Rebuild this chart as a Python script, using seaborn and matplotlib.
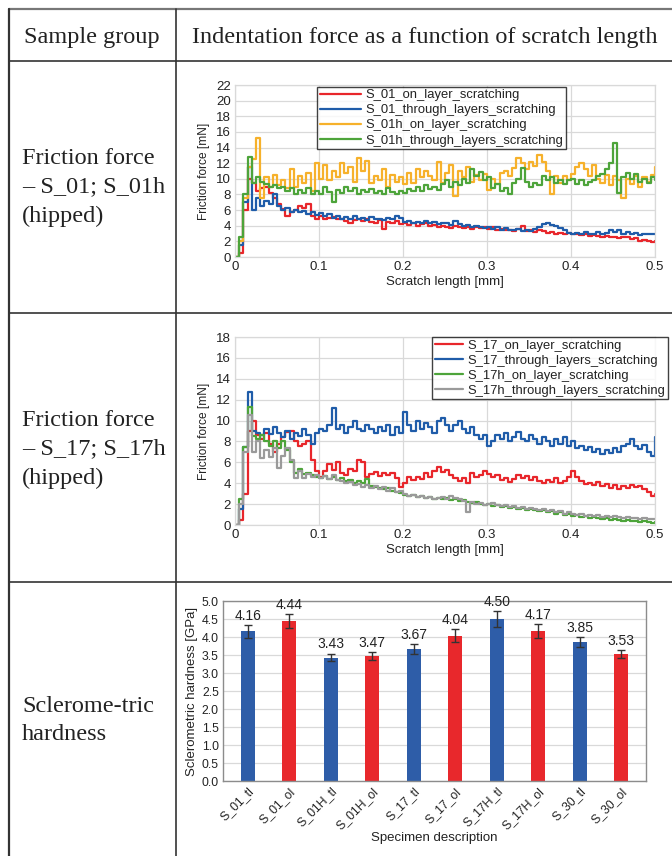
import numpy as np
import pandas as pd
import matplotlib
matplotlib.use("Agg")
import matplotlib.pyplot as plt
from matplotlib.lines import Line2D
from matplotlib.ticker import FormatStrFormatter, MultipleLocator
import seaborn as sns

# ---------------- data ----------------
X_MM = [0.000, 0.005, 0.010, 0.015, 0.020, 0.025, 0.030, 0.035, 0.040, 0.045,
        0.050, 0.055, 0.060, 0.065, 0.070, 0.075, 0.080, 0.085, 0.090, 0.095,
        0.100, 0.105, 0.110, 0.115, 0.120, 0.125, 0.130, 0.135, 0.140, 0.145,
        0.150, 0.155, 0.160, 0.165, 0.170, 0.175, 0.180, 0.185, 0.190, 0.195,
        0.200, 0.205, 0.210, 0.215, 0.220, 0.225, 0.230, 0.235, 0.240, 0.245,
        0.250, 0.255, 0.260, 0.265, 0.270, 0.275, 0.280, 0.285, 0.290, 0.295,
        0.300, 0.305, 0.310, 0.315, 0.320, 0.325, 0.330, 0.335, 0.340, 0.345,
        0.350, 0.355, 0.360, 0.365, 0.370, 0.375, 0.380, 0.385, 0.390, 0.395,
        0.400, 0.405, 0.410, 0.415, 0.420, 0.425, 0.430, 0.435, 0.440, 0.445,
        0.450, 0.455, 0.460, 0.465, 0.470, 0.475, 0.480, 0.485, 0.490, 0.495,
        0.500]

S01_ON = [0.0, 0.5, 6.0, 10.0, 9.5, 8.5, 8.8, 9.0, 8.2, 7.5,
          6.8, 6.2, 5.3, 5.8, 6.0, 6.5, 6.3, 6.8, 5.2, 4.8,
          5.2, 4.9, 5.0, 5.1, 4.8, 4.9, 4.6, 4.4, 4.7, 4.8,
          4.6, 4.9, 4.5, 4.3, 4.7, 3.6, 4.5, 4.3, 4.6, 4.2,
          4.4, 4.1, 4.3, 4.0, 4.2, 4.3, 4.0, 4.1, 3.8, 4.0,
          3.9, 3.7, 4.0, 3.8, 3.7, 3.9, 3.6, 3.8, 3.7, 3.9,
          3.6, 3.8, 3.5, 3.6, 3.4, 3.5, 3.3, 3.6, 4.0, 3.3,
          3.4, 3.2, 3.5, 3.3, 3.1, 3.2, 3.0, 3.1, 3.0, 3.1,
          2.9, 3.0, 2.8, 2.9, 2.7, 2.8, 2.7, 2.6, 2.7, 2.5,
          2.6, 2.4, 2.6, 2.5, 2.3, 2.4, 2.1, 2.2, 2.0, 1.9,
          2.0]
S01_THROUGH = [0.0, 1.5, 7.0, 11.5, 6.0, 7.5, 6.5, 7.2, 6.8, 8.0,
               6.5, 6.0, 6.3, 5.8, 6.0, 5.7, 5.9, 5.5, 5.8, 5.4,
               5.6, 5.3, 5.5, 5.0, 5.2, 4.9, 5.1, 4.8, 5.2, 4.9,
               5.0, 4.7, 5.1, 4.8, 4.9, 4.7, 5.0, 4.9, 5.2, 5.0,
               4.5, 4.6, 4.3, 4.5, 4.4, 4.6, 4.3, 4.5, 4.2, 4.4,
               4.3, 4.1, 4.6, 4.2, 4.0, 4.1, 3.9, 4.0, 3.8, 3.7,
               3.9, 3.6, 3.8, 3.5, 3.7, 3.5, 3.4, 3.6, 3.3, 3.5,
               3.3, 3.6, 3.9, 4.2, 4.4, 4.1, 4.0, 3.7, 3.5, 3.1,
               3.0, 3.1, 2.9, 3.2, 2.9, 3.0, 3.2, 2.9, 3.1, 3.4,
               3.2, 3.5, 3.0, 3.2, 2.9, 3.1, 2.8, 3.0, 2.9, 3.0,
               2.9]
S01H_ON = [0.0, 2.0, 7.5, 11.5, 12.5, 15.2, 7.5, 10.2, 9.0, 10.5,
           9.2, 9.8, 8.8, 11.2, 9.0, 10.3, 9.5, 10.8, 8.5, 12.0,
           10.0, 11.8, 9.8, 11.0, 10.2, 12.0, 10.8, 11.5, 9.6, 12.6,
           11.0, 12.3, 9.5, 10.4, 9.8, 11.2, 9.0, 10.5, 9.6, 10.2,
           9.4, 10.8, 9.5, 11.3, 10.2, 11.0, 10.4, 9.8, 12.1, 9.5,
           10.8, 11.8, 7.8, 11.0, 10.2, 11.5, 9.6, 10.5, 9.8, 10.6,
           8.6, 10.0, 9.3, 10.8, 11.0, 10.3, 11.4, 12.6, 12.0, 11.3,
           12.2, 11.6, 13.0, 12.2, 11.0, 8.0, 10.3, 9.5, 10.4, 9.8,
           10.6, 11.5, 12.0, 11.2, 10.4, 11.8, 10.0, 9.5, 10.5, 9.2,
           10.4, 9.8, 7.6, 10.0, 9.4, 10.3, 9.0, 10.2, 9.6, 10.5,
           11.5]
S01H_THROUGH = [0.0, 2.5, 8.0, 12.8, 9.5, 10.2, 9.6, 9.4, 9.0, 9.2,
                8.8, 9.0, 8.4, 8.8, 8.0, 8.6, 8.2, 8.8, 8.0, 8.4,
                8.1, 9.0, 8.3, 7.0, 8.6, 8.2, 8.9, 8.4, 8.8, 8.0,
                8.6, 8.3, 8.7, 8.2, 8.5, 8.0, 8.8, 8.3, 8.0, 8.5,
                8.2, 8.7, 8.4, 8.9, 8.5, 9.2, 8.7, 9.0, 8.6, 9.4,
                9.8, 8.9, 9.6, 9.2, 10.0, 9.5, 11.3, 10.4, 10.9, 9.8,
                10.2, 8.8, 9.3, 8.4, 8.8, 8.0, 9.5, 10.0, 11.4, 9.6,
                9.0, 9.5, 9.2, 10.3, 9.8, 10.2, 9.5, 9.9, 9.3, 9.8,
                10.0, 9.4, 9.8, 9.2, 9.6, 9.9, 10.3, 10.6, 11.2, 12.0,
                14.6, 8.2, 10.2, 10.8, 10.0, 10.6, 9.6, 10.0, 9.5, 10.2,
                9.8]

S17_ON = [0.0, 0.5, 3.0, 9.0, 10.0, 8.6, 8.2, 8.8, 7.8, 7.0,
          7.8, 8.4, 8.9, 9.0, 8.0, 7.6, 7.8, 8.0, 6.2, 5.2,
          4.6, 5.2, 5.8, 5.3, 6.0, 5.0, 4.8, 5.4, 5.2, 6.2,
          6.0, 4.6, 4.9, 5.1, 4.7, 5.0, 4.8, 5.0, 4.5, 3.6,
          4.0, 4.6, 4.3, 4.6, 4.4, 5.0, 4.6, 5.2, 5.6, 5.1,
          5.3, 4.8, 4.5, 4.2, 4.5, 4.0, 5.0, 4.6, 4.8, 5.2,
          4.9, 4.6, 4.8, 4.3, 4.5, 4.1, 4.4, 4.8, 4.5, 4.7,
          4.3, 4.6, 4.2, 4.0, 4.3, 4.1, 4.5, 4.0, 4.2, 4.6,
          5.2, 4.6, 4.2, 3.9, 4.0, 3.8, 4.1, 3.7, 3.9, 3.5,
          3.8, 3.4, 3.7, 3.5, 3.8, 3.6, 3.7, 3.4, 3.2, 2.8,
          3.0]
S17_THROUGH = [0.0, 1.5, 7.5, 12.7, 9.0, 8.8, 8.6, 9.2, 8.7, 9.4,
               8.8, 8.4, 9.0, 8.2, 8.8, 8.5, 9.2, 8.6, 7.8, 8.8,
               9.2, 9.0, 9.6, 11.2, 9.2, 9.6, 8.8, 9.4, 10.0, 9.2,
               9.0, 9.6, 9.2, 8.8, 9.4, 9.0, 9.6, 8.6, 9.4, 8.8,
               10.8, 9.6, 9.0, 10.0, 9.2, 9.8, 9.4, 8.8, 10.0, 10.2,
               9.6, 9.0, 9.6, 10.0, 9.2, 8.8, 9.4, 8.6, 8.2, 8.6,
               7.6, 8.0, 8.6, 8.2, 8.8, 8.0, 8.4, 8.9, 8.2, 8.0,
               8.6, 8.2, 7.8, 8.4, 8.0, 7.6, 8.2, 7.8, 8.4, 7.6,
               8.0, 7.4, 7.6, 7.2, 7.5, 7.0, 7.3, 6.8, 7.2, 6.9,
               7.4, 7.0, 7.6, 7.8, 8.2, 7.6, 7.3, 7.7, 7.0, 6.6,
               8.4]
S17H_ON = [0.0, 2.5, 7.5, 11.3, 8.5, 8.2, 8.6, 8.0, 7.6, 8.0,
           7.4, 8.0, 7.2, 6.0, 5.0, 5.4, 4.9, 5.0, 4.8, 4.6,
           4.5, 4.7, 4.4, 4.6, 4.3, 4.5, 4.2, 4.3, 4.0, 4.2,
           4.0, 4.4, 3.7, 3.6, 3.5, 3.4, 3.5, 3.3, 3.2, 3.1,
           2.9, 2.8, 2.9, 2.7, 2.8, 2.6, 2.7, 2.5, 2.6, 2.5,
           2.6, 2.4, 2.5, 2.3, 2.4, 2.2, 2.1, 2.2, 2.0, 1.9,
           2.0, 1.8, 1.9, 1.7, 1.8, 1.6, 1.7, 1.5, 1.6, 1.4,
           1.5, 1.4, 1.3, 1.4, 1.2, 1.3, 1.1, 1.2, 1.0, 1.1,
           0.9, 1.0, 0.8, 0.9, 0.7, 0.8, 0.7, 0.6, 0.7, 0.5,
           0.6, 0.5, 0.4, 0.5, 0.4, 0.4, 0.3, 0.4, 0.3, 0.2,
           0.3]
S17H_THROUGH = [0.0, 2.0, 7.0, 10.5, 7.0, 8.0, 6.4, 7.2, 6.5, 7.4,
                5.5, 6.6, 7.4, 6.2, 4.5, 5.2, 4.5, 4.9, 4.6, 4.8,
                4.5, 4.7, 4.4, 4.8, 4.3, 4.2, 4.0, 4.1, 3.8, 3.9,
                3.6, 3.8, 3.5, 3.7, 3.4, 3.6, 3.3, 3.5, 3.2, 3.3,
                3.0, 2.8, 2.9, 2.7, 2.8, 2.6, 2.7, 2.5, 2.6, 2.7,
                2.5, 2.8, 2.6, 2.5, 2.3, 1.2, 2.2, 2.0, 2.1, 1.9,
                2.0, 2.1, 1.9, 1.8, 1.9, 1.7, 1.8, 1.6, 1.7, 1.5,
                1.6, 1.5, 1.4, 1.5, 1.3, 1.4, 1.2, 1.3, 1.1, 1.2,
                1.1, 1.0, 1.1, 0.9, 1.0, 0.9, 1.0, 0.8, 0.9, 0.8,
                0.9, 0.8, 0.7, 0.8, 0.7, 0.7, 0.6, 0.7, 0.6, 0.6,
                0.6]

CHART1_LABELS = ["S_01_on_layer_scratching", "S_01_through_layers_scratching",
                 "S_01h_on_layer_scratching", "S_01h_through_layers_scratching"]
CHART2_LABELS = ["S_17_on_layer_scratching", "S_17_through_layers_scratching",
                 "S_17h_on_layer_scratching", "S_17h_through_layers_scratching"]

SPECIMENS = ["S_01_tl", "S_01_ol", "S_01H_tl", "S_01H_ol", "S_17_tl",
             "S_17_ol", "S_17H_tl", "S_17H_ol", "S_30_tl", "S_30_ol"]
HARDNESS = [4.16, 4.44, 3.43, 3.47, 3.67, 4.04, 4.50, 4.17, 3.85, 3.53]
HARDNESS_ERR = [0.18, 0.20, 0.11, 0.12, 0.14, 0.17, 0.22, 0.19, 0.14, 0.12]

X_TICKS = [0, 0.1, 0.2, 0.3, 0.4, 0.5]
X_TICK_LABELS = ["0", "0.1", "0.2", "0.3", "0.4", "0.5"]

# ---------------- style ----------------
sns.set_theme(style="white")
plt.rcParams["font.family"] = ["Liberation Sans", "DejaVu Sans"]
SERIF = ["Liberation Serif", "DejaVu Serif"]

RED = "#E8262B"
BLUE = "#1F5CA9"
ORANGE = "#F6B12B"
GREEN = "#4DA43A"
GRAY = "#9A9A9A"
BAR_BLUE = "#2E5DA8"
BAR_RED = "#E8282C"
TXT = "#222222"

W, H = 672, 856
fig = plt.figure(figsize=(W / 100, H / 100), dpi=100)
fig.patch.set_facecolor("white")


def fx(px):
    return px / W


def fy(py):
    return 1 - py / H


# ---------------- table lines ----------------
def hline(y, x0=9, x1=672, color="#333333", lw=1.2):
    fig.add_artist(Line2D([fx(x0), fx(x1)], [fy(y), fy(y)], color=color, lw=lw,
                          transform=fig.transFigure))


def vline(x, y0=9, y1=856, color="#333333", lw=1.2):
    fig.add_artist(Line2D([fx(x), fx(x)], [fy(y0), fy(y1)], color=color, lw=lw,
                          transform=fig.transFigure))


hline(9, color="#777777", lw=1.6)
hline(61)
hline(313)
hline(582)
vline(9, lw=1.6)
vline(176)

# ---------------- table text ----------------
TFS = 17.5
fig.text(fx(92), fy(37), "Sample group", family=SERIF, fontsize=TFS,
         ha="center", va="center", color=TXT)
fig.text(fx(192), fy(37), "Indentation force as a function of scratch length",
         family=SERIF, fontsize=TFS, ha="left", va="center", color=TXT)

row_texts = [
    (["Friction force", "– S_01; S_01h", "(hipped)"], 158),
    (["Friction force", "– S_17; S_17h", "(hipped)"], 420),
    (["Sclerome-tric", "hardness"], 706),
]
for lines, y0 in row_texts:
    for k, t in enumerate(lines):
        fig.text(fx(22), fy(y0 + 29 * k), t, family=SERIF, fontsize=TFS,
                 ha="left", va="center", color=TXT)

GRID_C = "#D9D9D9"
TICK_FS = 9.5
LAB_FS = 9.5


def style_line_axes(ax, ymax, ystep):
    ax.set_xlim(0, 0.5)
    ax.set_ylim(0, ymax)
    ax.set_xticks(X_TICKS)
    ax.set_xticklabels(X_TICK_LABELS)
    ax.yaxis.set_major_locator(MultipleLocator(ystep))
    ax.grid(True, color=GRID_C, lw=0.9)
    ax.set_axisbelow(True)
    for s in ax.spines.values():
        s.set_color(GRID_C)
        s.set_linewidth(0.9)
    ax.tick_params(axis="both", labelsize=TICK_FS, length=0, pad=3, colors=TXT)
    ax.set_xlabel("Scratch length [mm]", fontsize=LAB_FS, labelpad=2, color=TXT)
    ax.set_ylabel("Friction force [mN]", fontsize=8.6, labelpad=4, color=TXT)


def add_lines(ax, series, labels, colors):
    for ys, lab, c in zip(series, labels, colors):
        df = pd.DataFrame({"x": X_MM, "y": ys})
        sns.lineplot(data=df, x="x", y="y", ax=ax, color=c, lw=1.6,
                     drawstyle="steps-post", estimator=None, sort=False, label=lab)


def style_legend(ax, anchor, hlen):
    leg = ax.legend(loc="upper left", bbox_to_anchor=anchor, fontsize=9.4,
                    frameon=True, fancybox=False, borderpad=0.2, labelspacing=0.22,
                    handlelength=hlen, handletextpad=0.3, borderaxespad=0)
    leg.get_frame().set_edgecolor("#111111")
    leg.get_frame().set_linewidth(1.0)
    for t in leg.get_texts():
        t.set_color(TXT)


# ---------------- chart 1 ----------------
ax1 = fig.add_axes([fx(235), fy(257), fx(655) - fx(235), (257 - 85) / H])
add_lines(ax1, [S01_ON, S01_THROUGH, S01H_ON, S01H_THROUGH], CHART1_LABELS,
          [RED, BLUE, ORANGE, GREEN])
style_line_axes(ax1, 22, 2)
style_legend(ax1, (0.195, 0.99), 3.2)

# ---------------- chart 2 ----------------
ax2 = fig.add_axes([fx(235), fy(525), fx(655) - fx(235), (525 - 337) / H])
add_lines(ax2, [S17_ON, S17_THROUGH, S17H_ON, S17H_THROUGH], CHART2_LABELS,
          [RED, BLUE, GREEN, GRAY])
style_line_axes(ax2, 18, 2)
style_legend(ax2, (0.469, 1.0), 2.2)

# ---------------- chart 3 ----------------
ax3 = fig.add_axes([fx(223), fy(781), fx(646) - fx(223), (781 - 601) / H])
bar_df = pd.DataFrame({"spec": SPECIMENS, "hard": HARDNESS})
bar_colors = [BAR_BLUE if s.endswith("_tl") else BAR_RED for s in SPECIMENS]
sns.barplot(data=bar_df, x="spec", y="hard", hue="spec", palette=bar_colors,
            saturation=1, width=0.34, legend=False, ax=ax3, edgecolor="none")
pos = np.arange(len(SPECIMENS))
ax3.errorbar(pos, HARDNESS, yerr=HARDNESS_ERR, fmt="none", ecolor="#333333",
             elinewidth=1.0, capsize=3, capthick=1.0)
for p, v, e in zip(pos, HARDNESS, HARDNESS_ERR):
    ax3.annotate(f"{v:.2f}", (p, v + e), xytext=(0, 1.5), textcoords="offset points",
                 ha="center", va="bottom", fontsize=10, color=TXT)
ax3.set_ylim(0, 5.0)
ax3.set_xlim(-0.6, len(SPECIMENS) - 0.4)
ax3.yaxis.set_major_locator(MultipleLocator(0.5))
ax3.yaxis.set_major_formatter(FormatStrFormatter("%.1f"))
ax3.grid(True, axis="y", color=GRID_C, lw=0.9)
ax3.set_axisbelow(True)
for s in ax3.spines.values():
    s.set_color("#8C8C8C")
    s.set_linewidth(1.0)
ax3.set_xticks(pos)
ax3.set_xticklabels(SPECIMENS, rotation=45, ha="right", rotation_mode="anchor")
ax3.tick_params(axis="both", labelsize=8.8, length=0, pad=3, colors=TXT)
ax3.set_xlabel("Specimen description", fontsize=LAB_FS, labelpad=0, color=TXT)
ax3.set_ylabel("Sclerometric hardness [GPa]", fontsize=LAB_FS, labelpad=3, color=TXT)

fig.savefig("out.png", dpi=100)
